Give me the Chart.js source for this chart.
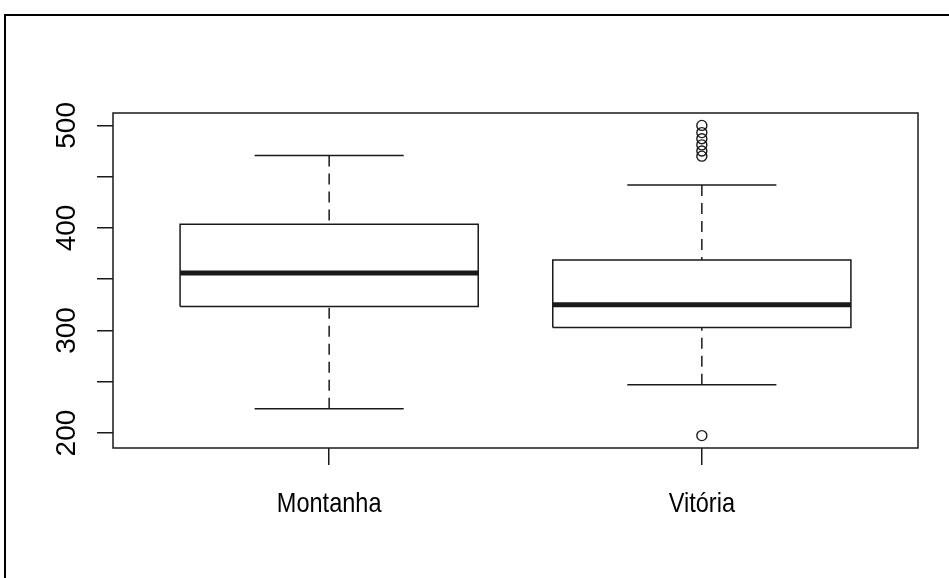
<!DOCTYPE html>
<html>
<head>
<meta charset="utf-8">
<script src="https://cdn.jsdelivr.net/npm/chart.js@4"></script>
<style>
  html, body { margin: 0; padding: 0; background: #fff; }
  #wrap { position: relative; width: 949px; height: 578px; overflow: hidden; }
  #frame { position: absolute; left: 4px; top: 14px; width: 1000px; height: 600px;
           border-left: 2px solid #000; border-top: 2px solid #000; }
  canvas { position: absolute; left: 0; top: 0; }
</style>
</head>
<body>
<div id="wrap">
  <div id="frame"></div>
  <canvas id="myChart" width="949" height="578"></canvas>
</div>
<script>
//** DATA */
const groups = ['Montanha', 'Vitória'];
const positions = [1, 2];
const lowerWhisker = [223.7, 247];
const q1 = [323.3, 303];
const median = [356.1, 325.1];
const q3 = [403.5, 368.8];
const upperWhisker = [470.7, 441.8];
const outliers = [
  [],
  [197.5, 470, 475, 481, 487, 493, 500]
];

const yTickMarks = [200, 250, 300, 350, 400, 450, 500];
const yTickLabels = [200, 300, 400, 500];

var boxHalf = 0.4;     // boxwex 0.8
var stapleHalf = 0.2;  // staplewex 0.5
var ink = '#1a1a1a';

//** BUILD LINE SEGMENTS (null breaks the line between pieces) */
function segments(pieces) {
  var out = [];
  pieces.forEach(function (p) {
    p.forEach(function (pt) { out.push(pt); });
    out.push({ x: p[0].x, y: null });
  });
  return out;
}

var boxes = segments(positions.map(function (p, i) {
  return [
    { x: p - boxHalf, y: q1[i] }, { x: p + boxHalf, y: q1[i] },
    { x: p + boxHalf, y: q3[i] }, { x: p - boxHalf, y: q3[i] },
    { x: p - boxHalf, y: q1[i] }
  ];
}));
var medians = segments(positions.map(function (p, i) {
  return [{ x: p - boxHalf, y: median[i] }, { x: p + boxHalf, y: median[i] }];
}));
var whiskers = segments([].concat(
  positions.map(function (p, i) { return [{ x: p, y: upperWhisker[i] }, { x: p, y: q3[i] }]; }),
  positions.map(function (p, i) { return [{ x: p, y: lowerWhisker[i] }, { x: p, y: q1[i] }]; })
));
var staples = segments([].concat(
  positions.map(function (p, i) { return [{ x: p - stapleHalf, y: upperWhisker[i] }, { x: p + stapleHalf, y: upperWhisker[i] }]; }),
  positions.map(function (p, i) { return [{ x: p - stapleHalf, y: lowerWhisker[i] }, { x: p + stapleHalf, y: lowerWhisker[i] }]; })
));
var outlierPoints = [];
positions.forEach(function (p, i) {
  outlierPoints = outlierPoints.concat(outliers[i].map(function (v) { return { x: p, y: v }; }));
});

function lineSet(data, width, dash) {
  return {
    data: data,
    showLine: true,
    spanGaps: false,
    borderColor: ink,
    borderWidth: width,
    borderDash: dash || [],
    borderCapStyle: 'butt',
    pointRadius: 0,
    fill: false,
  };
}

//** PLOT BOX + ROTATED Y LABELS + NARROW X LABELS */
const plotFrame = {
  id: 'plotFrame',
  afterDraw: function (chart) {
    const c = chart.ctx, a = chart.chartArea, y = chart.scales.y, x = chart.scales.x;
    c.save();
    c.strokeStyle = ink;
    c.lineWidth = 1.5;
    c.strokeRect(a.left, a.top, a.right - a.left, a.bottom - a.top);
    c.fillStyle = '#000';
    c.font = "28px 'Liberation Sans', Arial, sans-serif";
    c.textAlign = 'center';
    c.textBaseline = 'middle';
    yTickLabels.forEach(function (v) {
      c.save();
      c.translate(67, y.getPixelForValue(v));
      c.rotate(-Math.PI / 2);
      c.fillText(String(v), 0, 0);
      c.restore();
    });
    // category labels are set in a condensed face in the original
    c.textBaseline = 'alphabetic';
    positions.forEach(function (p, i) {
      c.save();
      c.translate(x.getPixelForValue(p), a.bottom + 64);
      c.scale(0.84, 1);
      c.fillText(groups[i], 0, 0);
      c.restore();
    });
    c.restore();
  }
};

const ctx = document.getElementById('myChart');
const chart = new Chart(ctx, {
  type: 'scatter',
  data: {
    datasets: [
      lineSet(boxes, 1.5),
      lineSet(whiskers, 1.5, [11, 7]),
      lineSet(staples, 1.5),
      lineSet(medians, 5),
      {
        data: outlierPoints,
        pointStyle: 'circle',
        pointRadius: 5,
        pointBorderWidth: 1.4,
        pointBorderColor: ink,
        pointBackgroundColor: 'rgba(0,0,0,0)',
        showLine: false,
      },
    ],
  },
  options: {
    responsive: false,
    animation: false,
    events: [],
    layout: { padding: { top: 113, right: 31, left: 0, bottom: 0 } },
    plugins: {
      legend: { display: false },
      tooltip: { enabled: false },
    },
    scales: {
      x: {
        type: 'linear',
        min: 0.42,
        max: 2.58,
        afterFit: function (s) { s.height = 130; },
        afterBuildTicks: function (s) { s.ticks = positions.map(function (p) { return { value: p }; }); },
        border: { display: false },
        grid: { drawOnChartArea: false, drawTicks: true, tickLength: 17, color: ink, lineWidth: 1.5 },
        ticks: { display: false },
      },
      y: {
        type: 'linear',
        min: 185.4,
        max: 512.1,
        afterFit: function (s) { s.width = 113; },
        afterBuildTicks: function (s) { s.ticks = yTickMarks.map(function (v) { return { value: v }; }); },
        border: { display: false },
        grid: { drawOnChartArea: false, drawTicks: true, tickLength: 16, color: ink, lineWidth: 1.5 },
        ticks: { display: false },
      },
    },
  },
  plugins: [plotFrame],
});
</script>
</body>
</html>
